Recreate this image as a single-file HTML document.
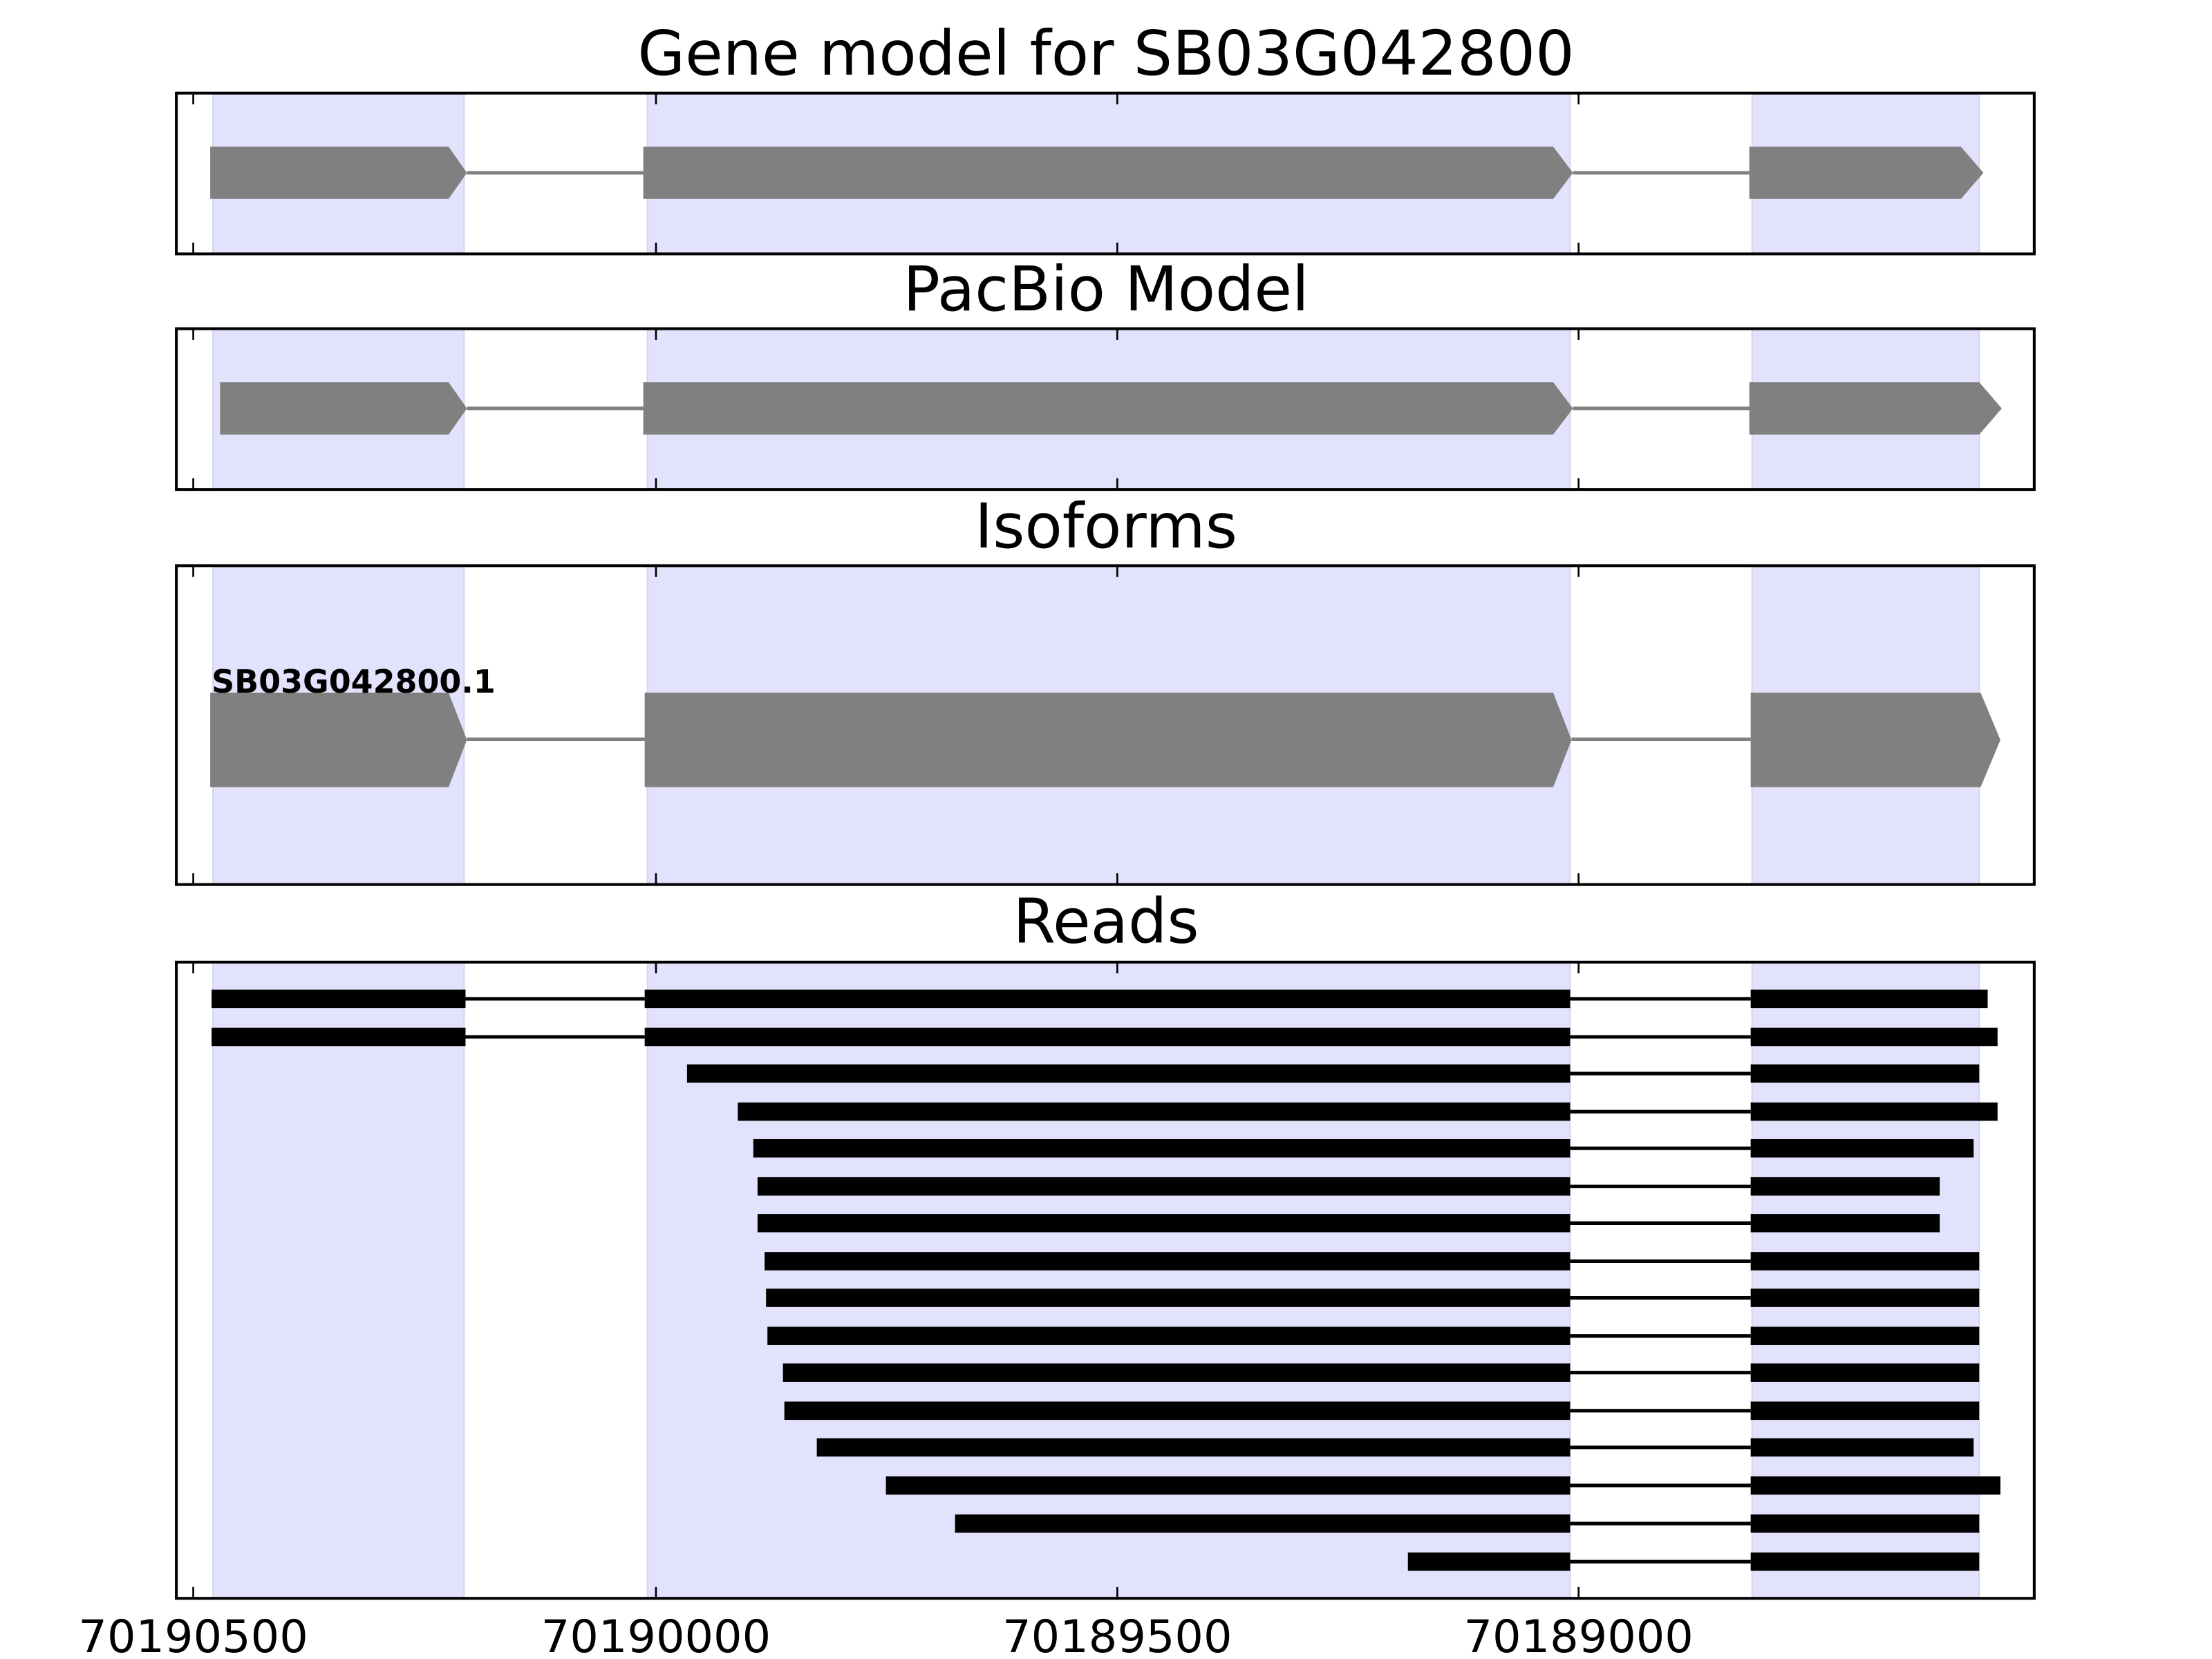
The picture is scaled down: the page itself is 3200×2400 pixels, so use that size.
<!DOCTYPE html>
<html><head><meta charset="utf-8"><style>html,body{margin:0;padding:0;background:#fff}svg{display:block}</style></head><body>
<svg xmlns="http://www.w3.org/2000/svg" width="3200" height="2400" viewBox="0 0 1568 1176">
<rect width="1568" height="1176" fill="#fff"/>
<g font-family="'DejaVu Sans','Liberation Sans',sans-serif" fill="#000" text-anchor="middle">
<text x="784" y="53" font-size="43.5">Gene model for SB03G042800</text>
<text x="784" y="220" font-size="43.5">PacBio Model</text>
<text x="784" y="388" font-size="43.5">Isoforms</text>
<text x="784" y="668" font-size="43.5">Reads</text>
</g>
<g fill="#e2e2fc" stroke="#d4d4ee" stroke-width="1">
<rect x="151" y="66" width="178" height="114"/><rect x="459" y="66" width="654" height="114"/><rect x="1242" y="66" width="161" height="114"/>
<rect x="151" y="233" width="178" height="114"/><rect x="459" y="233" width="654" height="114"/><rect x="1242" y="233" width="161" height="114"/>
<rect x="151" y="401" width="178" height="226"/><rect x="459" y="401" width="654" height="226"/><rect x="1242" y="401" width="161" height="226"/>
<rect x="151" y="682" width="178" height="451"/><rect x="459" y="682" width="654" height="451"/><rect x="1242" y="682" width="161" height="451"/>
</g>
<g fill="#808080" stroke="none">
<line x1="331" y1="122.5" x2="456" y2="122.5" stroke="#808080" stroke-width="2.5"/>
<line x1="1115" y1="122.5" x2="1240" y2="122.5" stroke="#808080" stroke-width="2.5"/>
<polygon points="149,104 318,104 331,122.5 318,141 149,141"/>
<polygon points="456,104 1101,104 1115,122.5 1101,141 456,141"/>
<polygon points="1240,104 1390,104 1406,122.5 1390,141 1240,141"/>
<line x1="331" y1="289.5" x2="456" y2="289.5" stroke="#808080" stroke-width="2.5"/>
<line x1="1115" y1="289.5" x2="1240" y2="289.5" stroke="#808080" stroke-width="2.5"/>
<polygon points="156,271 318,271 331,289.5 318,308 156,308"/>
<polygon points="456,271 1101,271 1115,289.5 1101,308 456,308"/>
<polygon points="1240,271 1403,271 1419,289.5 1403,308 1240,308"/>
<line x1="331" y1="524" x2="457" y2="524" stroke="#808080" stroke-width="2.5"/>
<line x1="1114" y1="524" x2="1241" y2="524" stroke="#808080" stroke-width="2.5"/>
<polygon points="149,491 318,491 331,524.5 318,558 149,558"/>
<polygon points="457,491 1101,491 1114,524.5 1101,558 457,558"/>
<polygon points="1241,491 1404,491 1418,524.5 1404,558 1241,558"/>
</g>
<text x="150" y="491" font-family="'DejaVu Sans','Liberation Sans',sans-serif" font-weight="bold" font-size="22.5">SB03G042800.1</text>
<g fill="#000" stroke="#000">
<line x1="330" y1="708" x2="457" y2="708" stroke-width="2.5"/>
<line x1="330" y1="735" x2="457" y2="735" stroke-width="2.5"/>
<g stroke-width="2.5">
<line x1="1113" y1="708" x2="1241" y2="708"/><line x1="1113" y1="735" x2="1241" y2="735"/>
<line x1="1113" y1="761" x2="1241" y2="761"/><line x1="1113" y1="788" x2="1241" y2="788"/>
<line x1="1113" y1="814" x2="1241" y2="814"/><line x1="1113" y1="841" x2="1241" y2="841"/>
<line x1="1113" y1="867" x2="1241" y2="867"/><line x1="1113" y1="894" x2="1241" y2="894"/>
<line x1="1113" y1="920" x2="1241" y2="920"/><line x1="1113" y1="947" x2="1241" y2="947"/>
<line x1="1113" y1="973" x2="1241" y2="973"/><line x1="1113" y1="1000" x2="1241" y2="1000"/>
<line x1="1113" y1="1026" x2="1241" y2="1026"/><line x1="1113" y1="1053" x2="1241" y2="1053"/>
<line x1="1113" y1="1080" x2="1241" y2="1080"/><line x1="1113" y1="1107" x2="1241" y2="1107"/>
</g>
<g stroke="none">
<rect x="150" y="701.5" width="180" height="13"/><rect x="457" y="701.5" width="656" height="13"/><rect x="1241" y="701.5" width="168" height="13"/>
<rect x="150" y="728.5" width="180" height="13"/><rect x="457" y="728.5" width="656" height="13"/><rect x="1241" y="728.5" width="175" height="13"/>
<rect x="487" y="754.5" width="626" height="13"/><rect x="1241" y="754.5" width="162" height="13"/>
<rect x="523" y="781.5" width="590" height="13"/><rect x="1241" y="781.5" width="175" height="13"/>
<rect x="534" y="807.5" width="579" height="13"/><rect x="1241" y="807.5" width="158" height="13"/>
<rect x="537" y="834.5" width="576" height="13"/><rect x="1241" y="834.5" width="134" height="13"/>
<rect x="537" y="860.5" width="576" height="13"/><rect x="1241" y="860.5" width="134" height="13"/>
<rect x="542" y="887.5" width="571" height="13"/><rect x="1241" y="887.5" width="162" height="13"/>
<rect x="543" y="913.5" width="570" height="13"/><rect x="1241" y="913.5" width="162" height="13"/>
<rect x="544" y="940.5" width="569" height="13"/><rect x="1241" y="940.5" width="162" height="13"/>
<rect x="555" y="966.5" width="558" height="13"/><rect x="1241" y="966.5" width="162" height="13"/>
<rect x="556" y="993.5" width="557" height="13"/><rect x="1241" y="993.5" width="162" height="13"/>
<rect x="579" y="1019.5" width="534" height="13"/><rect x="1241" y="1019.5" width="158" height="13"/>
<rect x="628" y="1046.5" width="485" height="13"/><rect x="1241" y="1046.5" width="177" height="13"/>
<rect x="677" y="1073.5" width="436" height="13"/><rect x="1241" y="1073.5" width="162" height="13"/>
<rect x="998" y="1100.5" width="115" height="13"/><rect x="1241" y="1100.5" width="162" height="13"/>
</g>
</g>
<g fill="none" stroke="#000" stroke-width="2">
<rect x="125" y="66" width="1317" height="114"/>
<rect x="125" y="233" width="1317" height="114"/>
<rect x="125" y="401" width="1317" height="226"/>
<rect x="125" y="682" width="1317" height="451"/>
</g>
<g stroke="#000" stroke-width="1.3">
<path d="M137,66v8M465,66v8M792,66v8M1119,66v8M137,180v-8M465,180v-8M792,180v-8M1119,180v-8"/>
<path d="M137,233v8M465,233v8M792,233v8M1119,233v8M137,347v-8M465,347v-8M792,347v-8M1119,347v-8"/>
<path d="M137,401v8M465,401v8M792,401v8M1119,401v8M137,627v-8M465,627v-8M792,627v-8M1119,627v-8"/>
<path d="M137,682v8M465,682v8M792,682v8M1119,682v8M137,1133v-8M465,1133v-8M792,1133v-8M1119,1133v-8"/>
</g>
<g font-family="'DejaVu Sans','Liberation Sans',sans-serif" font-size="32" text-anchor="middle" fill="#000">
<text x="137" y="1171">70190500</text>
<text x="465" y="1171">70190000</text>
<text x="792" y="1171">70189500</text>
<text x="1119" y="1171">70189000</text>
</g>
</svg>
</body></html>
